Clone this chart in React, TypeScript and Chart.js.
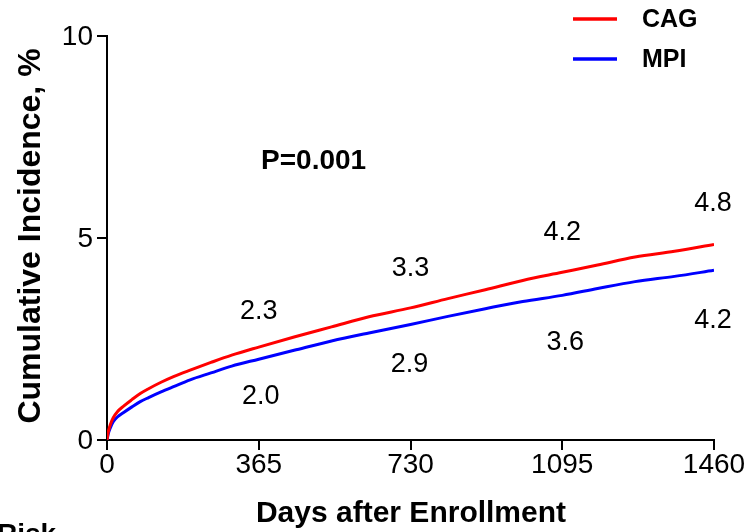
import React, { useEffect, useRef } from "react";
import { Chart, registerables } from "chart.js";

Chart.register(...registerables);

const days = [0, 3, 8, 15, 25, 40, 60, 80, 100, 130, 160, 200, 250, 300, 365, 450, 540, 630, 730, 820, 910, 1000, 1095, 1180, 1270, 1365, 1460];
const cagValues = [0, 0.2, 0.38, 0.55, 0.7, 0.84, 1.0, 1.15, 1.27, 1.43, 1.57, 1.73, 1.92, 2.1, 2.3, 2.55, 2.8, 3.05, 3.27, 3.5, 3.72, 3.95, 4.15, 4.33, 4.53, 4.67, 4.84];
const mpiValues = [0, 0.15, 0.3, 0.45, 0.57, 0.68, 0.82, 0.95, 1.05, 1.19, 1.32, 1.49, 1.66, 1.83, 2.0, 2.22, 2.45, 2.65, 2.86, 3.06, 3.25, 3.43, 3.58, 3.75, 3.92, 4.05, 4.2];

const xTicks = [0, 365, 730, 1095, 1460];
const yTicks = [0, 5, 10];

const labelDays = [365, 730, 1095, 1460];
const cagLabels = ["2.3", "3.3", "4.2", "4.8"];
const mpiLabels = ["2.0", "2.9", "3.6", "4.2"];

const seriesNames = ["CAG", "MPI"];
const seriesColors = ["#ff0000", "#0000ff"];

const xTitle = "Days after Enrollment";
const yTitle = "Cumulative Incidence, %";
const pText = "P=0.001";
const riskText = "Risk";

const FONT = '"Liberation Sans", Arial, Helvetica, sans-serif';

export default function App() {
  const ref = useRef<HTMLCanvasElement | null>(null);

  useEffect(() => {
    if (!ref.current) return;
    const cagOffsets = [-36, -39, -40, -41];
    const mpiOffsets = [37, 40, 47, 50];

    const textPlugin = {
      id: "customText",
      afterDraw(chart: any) {
        const ctx = chart.ctx;
        const xs = chart.scales.x;
        const ys = chart.scales.y;
        const area = chart.chartArea;
        ctx.save();
        ctx.fillStyle = "#000";
        ctx.textBaseline = "middle";

        // y tick labels
        ctx.font = `28px ${FONT}`;
        ctx.textAlign = "right";
        yTicks.forEach((v) => {
          ctx.fillText(String(v), area.left - 14, ys.getPixelForValue(v) + 1);
        });
        // x tick labels
        ctx.textAlign = "center";
        xTicks.forEach((v) => {
          ctx.fillText(String(v), xs.getPixelForValue(v), area.bottom + 25);
        });

        // annotations
        ctx.font = `27px ${FONT}`;
        labelDays.forEach((d, i) => {
          const idx = days.indexOf(d);
          const x = xs.getPixelForValue(d);
          ctx.fillText(cagLabels[i], x + (i === 3 ? -1 : 0), ys.getPixelForValue(cagValues[idx]) + cagOffsets[i]);
          ctx.fillText(mpiLabels[i], x + (i === 0 ? 2 : i === 2 ? 3 : -1), ys.getPixelForValue(mpiValues[idx]) + mpiOffsets[i]);
        });

        // P value
        ctx.font = `bold 28px ${FONT}`;
        ctx.fillText(pText, xs.getPixelForValue(497), ys.getPixelForValue(6.9));

        // axis titles
        ctx.font = `bold 30px ${FONT}`;
        ctx.fillText(xTitle, 411, 514);
        ctx.save();
        ctx.translate(31, 236);
        ctx.rotate(-Math.PI / 2);
        ctx.font = `bold 32px ${FONT}`;
        ctx.fillText(yTitle, 0, 0);
        ctx.restore();

        // legend
        ctx.textAlign = "left";
        ctx.font = `bold 25px ${FONT}`;
        const legendY = [19, 59];
        seriesNames.forEach((n, i) => {
          ctx.strokeStyle = seriesColors[i];
          ctx.lineWidth = 3.5;
          ctx.beginPath();
          ctx.moveTo(573, legendY[i]);
          ctx.lineTo(617, legendY[i]);
          ctx.stroke();
          ctx.fillText(n, 642, legendY[i] + 1);
        });

        // cut-off "Risk"
        ctx.font = `bold 28px ${FONT}`;
        ctx.textBaseline = "alphabetic";
        ctx.fillText(riskText, -3, 543);
        ctx.restore();
      },
    };

    const chart = new Chart(ref.current, {
      type: "line",
      data: {
        datasets: [
          {
            label: seriesNames[0],
            data: days.map((d, i) => ({ x: d, y: cagValues[i] })),
            borderColor: seriesColors[0],
            borderWidth: 3,
            pointRadius: 0,
            cubicInterpolationMode: "monotone",
            fill: false,
          },
          {
            label: seriesNames[1],
            data: days.map((d, i) => ({ x: d, y: mpiValues[i] })),
            borderColor: seriesColors[1],
            borderWidth: 3,
            pointRadius: 0,
            cubicInterpolationMode: "monotone",
            fill: false,
          },
        ],
      },
      options: {
        animation: false,
        responsive: false,
        maintainAspectRatio: false,
        layout: { padding: { left: 0, top: 36, right: 39, bottom: 0 } },
        plugins: { legend: { display: false }, tooltip: { enabled: false } },
        scales: {
          x: {
            type: "linear",
            min: 0,
            max: 1460,
            afterBuildTicks: (s: any) => {
              s.ticks = xTicks.map((v) => ({ value: v }));
            },
            afterFit: (s: any) => {
              s.height = 92;
            },
            ticks: { display: false },
            grid: { drawOnChartArea: false, color: "#000", lineWidth: 2, tickLength: 10 },
            border: { color: "#000", width: 2 },
          },
          y: {
            type: "linear",
            min: 0,
            max: 10,
            afterBuildTicks: (s: any) => {
              s.ticks = yTicks.map((v) => ({ value: v }));
            },
            afterFit: (s: any) => {
              s.width = 107;
            },
            ticks: { display: false },
            grid: { drawOnChartArea: false, color: "#000", lineWidth: 2, tickLength: 10 },
            border: { color: "#000", width: 2 },
          },
        },
      },
      plugins: [textPlugin],
    } as any);
    return () => chart.destroy();
  }, []);

  return (
    <div style={{ position: "fixed", left: 0, top: 0, width: 753, height: 532, background: "#fff" }}>
      <canvas ref={ref} width={753} height={532} style={{ display: "block", width: 753, height: 532 }} />
    </div>
  );
}
